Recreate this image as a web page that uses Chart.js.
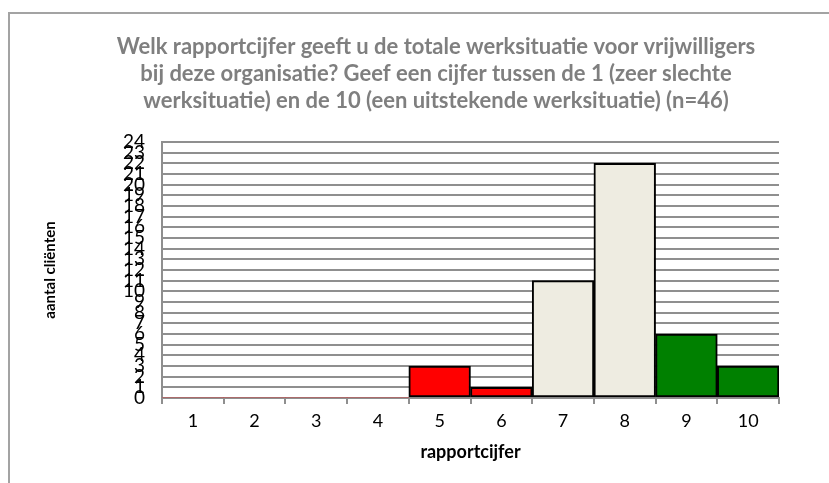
<!DOCTYPE html>
<html>
<head>
<meta charset="utf-8">
<script src="https://cdn.jsdelivr.net/npm/chart.js@4"></script>
<style>
  html, body { margin: 0; padding: 0; background: #fff; overflow: hidden; }
  #frame {
    position: absolute; left: 8px; top: 12px; width: 900px; height: 500px;
    border-left: 2px solid #a3a3a3; border-top: 2px solid #a3a3a3;
  }
  #wrap { position: absolute; left: 0; top: 0; width: 829px; height: 483px; }
</style>
</head>
<body>
<div id="frame"></div>
<div id="wrap"><canvas id="chart"></canvas></div>
<script>
// categories and values
const cijfers = ['1', '2', '3', '4', '5', '6', '7', '8', '9', '10'];
const aantallen = [0, 0, 0, 0, 3, 1, 11, 22, 6, 3];
const titleLines = [
    'Welk rapportcijfer geeft u de totale werksituatie voor vrijwilligers',
    'bij deze organisatie? Geef een cijfer tussen de 1 (zeer slechte',
    'werksituatie) en de 10 (een uitstekende werksituatie) (n=46)'
];

function barColor(i) {
    if (i <= 5) return '#ff0000';   // 1-6
    if (i <= 7) return '#eeece1';   // 7-8
    return '#008000';               // 9-10
}

const grey = '#8f8f8f';

const ctx = document.getElementById('chart').getContext('2d');
new Chart(ctx, {
    type: 'bar',
    data: {
        labels: cijfers,
        datasets: [{
            data: aantallen,
            backgroundColor: cijfers.map((c, i) => barColor(i)),
            borderColor: '#000',
            borderWidth: c => (c.raw === 0 ? 0 : 2),
            borderSkipped: false,
            barPercentage: 1,
            categoryPercentage: 1
        }]
    },
    options: {
        responsive: true,
        maintainAspectRatio: false,
        animation: false,
        layout: { padding: { left: 43, right: 0, top: 10, bottom: 20 } },
        plugins: {
            legend: { display: false },
            tooltip: { enabled: false },
            title: {
                display: true,
                text: titleLines,
                color: '#7f7f7f',
                font: { family: 'Lato', size: 22, weight: 'bold', lineHeight: 27 / 22 },
                padding: { top: 23.5, bottom: 27.5 }
            }
        },
        scales: {
            x: {
                afterFit: s => { s.height = 65; },
                grid: {
                    display: true,
                    drawOnChartArea: false,
                    drawTicks: true,
                    tickLength: 6,
                    color: grey,
                    lineWidth: 2
                },
                border: { display: true, color: grey, width: 2 },
                ticks: {
                    color: '#000',
                    padding: 6,
                    font: { family: 'Lato', size: 18, lineHeight: 1.2 }
                },
                title: {
                    display: true,
                    text: 'rapportcijfer',
                    color: '#000',
                    font: { family: 'Lato', size: 18, weight: 'bold', lineHeight: 1.2 },
                    padding: { top: 0, bottom: 0 }
                }
            },
            y: {
                min: 0,
                max: 24,
                afterFit: s => { s.width = 119; },
                grid: { color: grey, lineWidth: 2, drawTicks: false },
                border: { display: true, color: grey, width: 2 },
                ticks: {
                    stepSize: 1,
                    autoSkip: false,
                    color: '#000',
                    padding: 17,
                    font: { family: 'Lato', size: 19, lineHeight: 1 }
                },
                title: {
                    display: true,
                    text: 'aantal cliënten',
                    color: '#000',
                    font: { family: 'Lato', size: 15, weight: 'bold', lineHeight: 1 },
                    padding: 0
                }
            },
            // empty right-hand axis, only keeps the plot clear of the right edge
            yRight: {
                position: 'right',
                display: true,
                afterFit: s => { s.width = 50; },
                grid: { display: false },
                border: { display: false },
                ticks: { display: false }
            }
        }
    }
});
</script>
</body>
</html>
